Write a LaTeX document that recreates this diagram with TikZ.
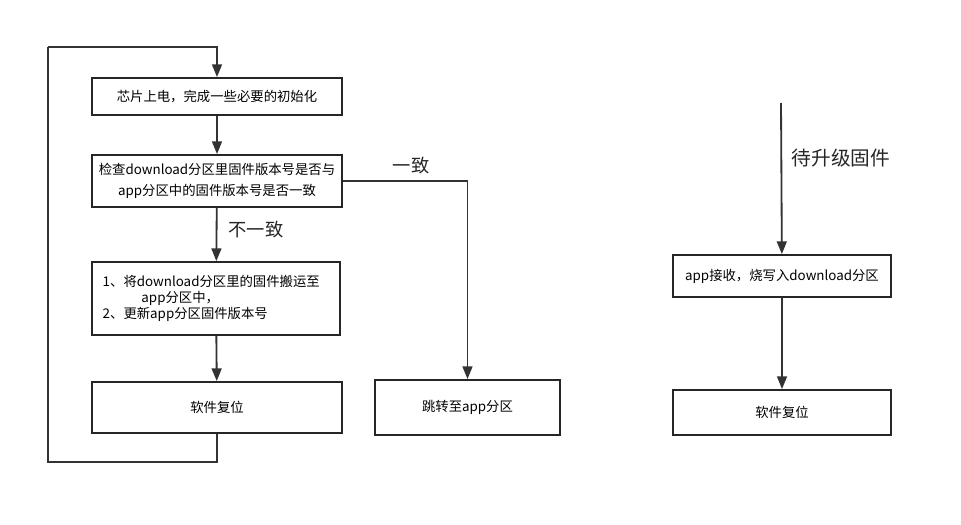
\documentclass[tikz,border=0pt]{standalone}
\usepackage{fontspec}
\setmainfont{Noto Sans CJK SC}
\usetikzlibrary{arrows.meta}

\tikzset{
	box/.style={draw=black!85, line width=1.3pt, minimum width=#1, inner sep=0pt, font=\fontsize{9.5}{15}\selectfont},
	box/.default={6.25cm},
	flow/.style={draw=black!80, line width=1.3pt, -{Triangle[length=9pt,width=7pt]}},
	wire/.style={draw=black!80, line width=1.3pt},
	tag/.style={font=\fontsize{13}{15}\selectfont, text=black!85},
}

\begin{document}
\begin{tikzpicture}[x=0.025cm, y=-0.025cm]
		\useasboundingbox (0, 0) rectangle (961, 525);

		% left flow
		\node[box, minimum height=0.925cm] (power) at (217, 96.5) {芯片上电，完成一些必要的初始化};
		\node[box, minimum height=1.3cm, align=center] (check) at (217, 181) {检查download分区里固件版本号是否与\\app分区中的固件版本号是否一致};
		\node[box=6.2cm, minimum height=1.825cm, align=left, font=\fontsize{9.5}{11.3}\selectfont] (copy) at (216, 298.5) {1、将download分区里的固件搬运至\\\hspace*{2.9em}app分区中，\\2、更新app分区固件版本号\hspace*{4.6em}};
		\node[box, minimum height=1.275cm] (reset) at (217, 407.5) {软件复位};
		\node[box=4.625cm, minimum height=1.375cm] (jump) at (467.5, 407.5) {跳转至app分区};

		\draw[flow] (power) -- (check);
		\draw[flow] (check) -- (copy);
		\draw[flow] (copy) -- (reset);
		\draw[flow] (check.east) -| (jump.north);

		\coordinate (loopb) at (48, 462);
		\coordinate (loopt) at (48, 47);
		\draw[wire] (reset.south) |- (loopb) -- (loopt);
		\draw[flow] (loopt) -| (power.north);

		\node[tag] (diff) at (256, 230) {不一致};
		\node[tag] (same) at (411, 166) {一致};

		% right flow
		\coordinate (fw) at (781, 103);
		\node[box=5.45cm, minimum height=1.05cm] (recv) at (782, 276) {app接收，烧写入download分区};
		\node[box=5.45cm, minimum height=1.125cm] (reset2) at (782, 412.5) {软件复位};

		\draw[flow] (fw) -- (recv);
		\draw[flow] (recv) -- (reset2);
		\node[tag, font=\fontsize{14}{16}\selectfont] (newfw) at (841, 158) {待升级固件};
	\end{tikzpicture}
\end{document}
